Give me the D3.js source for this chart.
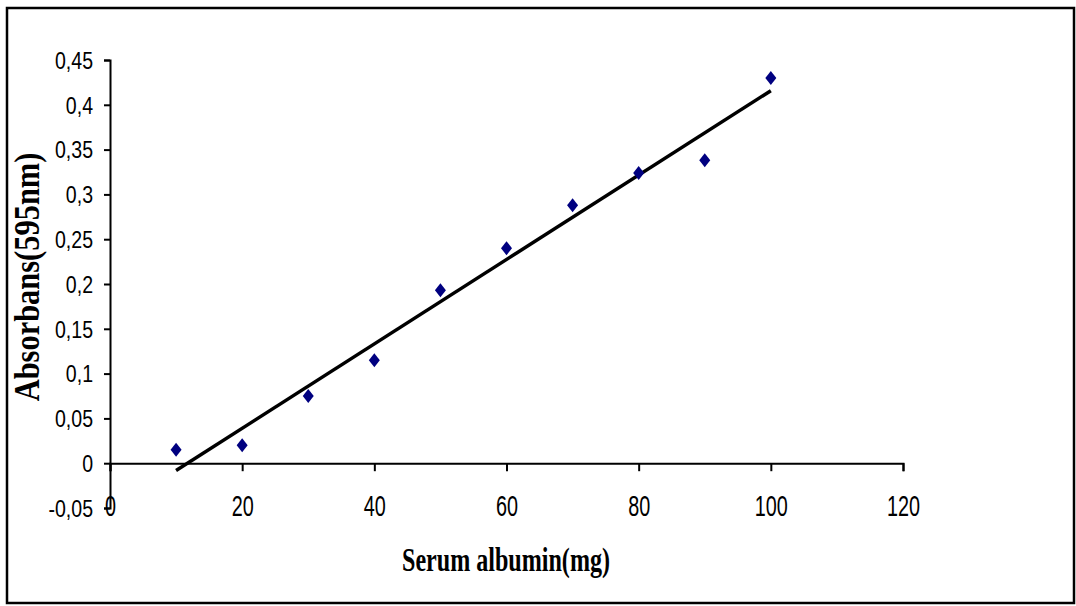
<!DOCTYPE html>
<html>
<head>
<meta charset="utf-8">
<script src="https://cdn.jsdelivr.net/npm/d3@7"></script>
<style>
  body { margin: 0; background: #ffffff; }
  svg { display: block; }
</style>
</head>
<body>
<div id="chart"></div>
<script>
// values
var albumin = [10, 20, 30, 40, 50, 60, 70, 80, 90, 100];
var absorbans = [0.015, 0.02, 0.075, 0.115, 0.193, 0.24, 0.288, 0.324, 0.338, 0.43];
var xTicks = [0, 20, 40, 60, 80, 100, 120];
var yTicks = [-0.05, 0, 0.05, 0.1, 0.15, 0.2, 0.25, 0.3, 0.35, 0.4, 0.45];

var width = 1076, height = 606;
var sans = "Liberation Sans, Arial, sans-serif";
var serif = "Liberation Serif, Times New Roman, serif";

var svg = d3.select("#chart").append("svg")
  .attr("width", width)
  .attr("height", height);

// outer frame
svg.append("rect")
  .attr("x", 7).attr("y", 8)
  .attr("width", 1067).attr("height", 595)
  .style("fill", "white").style("stroke", "black").style("stroke-width", 2.5);

var x = d3.scaleLinear().domain([0, 120]).range([110, 903]);
var y = d3.scaleLinear().domain([-0.05, 0.45]).range([508, 60]);

var fmt = function (d) { return String(d).replace(".", ","); };

// y axis
var ySx = 0.85;
var yAxis = d3.axisLeft(y).tickValues(yTicks).tickSize(6).tickFormat(fmt);
var gy = svg.append("g")
  .attr("transform", "translate(" + x(0) + ",0)")
  .call(yAxis);
gy.select(".domain").attr("stroke-width", 2);
gy.selectAll(".tick line").attr("stroke-width", 2);
gy.selectAll(".tick text")
  .attr("x", -17 / ySx)
  .attr("dy", "0.36em")
  .attr("transform", "scale(" + ySx + ",1)")
  .style("font-family", sans)
  .style("font-size", "23px")
  .attr("fill", "black");

// x axis sits on y = 0
var xSx = 0.66;
var xAxis = d3.axisBottom(x).tickValues(xTicks).tickSize(8).tickSizeOuter(8).tickFormat(d3.format("d"));
var gx = svg.append("g")
  .attr("transform", "translate(0," + y(0) + ")")
  .call(xAxis);
gx.select(".domain").attr("stroke-width", 2);
gx.selectAll(".tick line").attr("stroke-width", 2);
gx.selectAll(".tick text")
  .attr("y", 53)
  .attr("dy", 0)
  .attr("transform", "scale(" + xSx + ",1)")
  .style("font-family", sans)
  .style("font-size", "30px")
  .attr("fill", "black");

// linear trend line (least squares)
var mx = d3.mean(albumin), my = d3.mean(absorbans);
var sxy = d3.sum(albumin, function (v, i) { return (v - mx) * (absorbans[i] - my); });
var sxx = d3.sum(albumin, function (v) { return (v - mx) * (v - mx); });
var slope = sxy / sxx, intercept = my - slope * mx;
var ends = d3.extent(albumin);

svg.append("line")
  .attr("x1", x(ends[0])).attr("y1", y(intercept + slope * ends[0]))
  .attr("x2", x(ends[1])).attr("y2", y(intercept + slope * ends[1]))
  .style("stroke", "black").style("stroke-width", 3.5);

// data points
svg.selectAll(".pt")
  .data(albumin)
  .enter().append("path")
  .attr("class", "pt")
  .attr("d", "M0,-7L5.5,0L0,7L-5.5,0Z")
  .attr("transform", function (d, i) { return "translate(" + x(d) + "," + y(absorbans[i]) + ")"; })
  .style("fill", "#000080");

// axis titles
svg.append("text")
  .attr("transform", "translate(506,571) scale(0.73,1)")
  .attr("text-anchor", "middle")
  .style("font-family", serif)
  .style("font-weight", "bold")
  .style("font-size", "33px")
  .text("Serum albumin(mg)");

svg.append("text")
  .attr("transform", "translate(39,277) rotate(-90) scale(0.87,1)")
  .attr("text-anchor", "middle")
  .style("font-family", serif)
  .style("font-weight", "bold")
  .style("font-size", "35px")
  .text("Absorbans(595nm)");
</script>
</body>
</html>
